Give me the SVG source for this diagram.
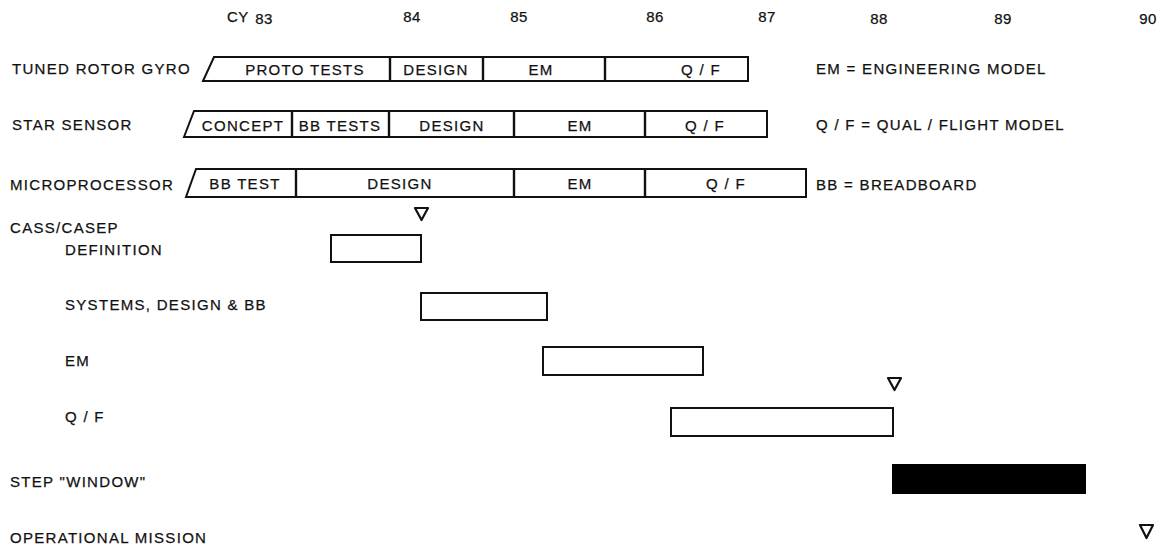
<svg xmlns="http://www.w3.org/2000/svg" width="1171" height="545" viewBox="0 0 1171 545">
<style>
text{font-family:"Liberation Sans",Arial,sans-serif;font-size:15px;fill:#111;letter-spacing:1.3px;stroke:#111;stroke-width:0.25}
.c{text-anchor:middle}
.n{letter-spacing:0.5px}
.bar{fill:#fff;stroke:#111;stroke-width:2}
.div{stroke:#111;stroke-width:2.4}
.tri{fill:none;stroke:#111;stroke-width:2.2;stroke-linejoin:round}
</style>
<rect width="1171" height="545" fill="#fff"/>
<g id="axis">
<text x="227" y="22" class="n">CY</text>
<text x="264" y="24" class="c n">83</text>
<text x="412" y="22" class="c n">84</text>
<text x="519" y="22" class="c n">85</text>
<text x="655" y="22" class="c n">86</text>
<text x="767" y="22" class="c n">87</text>
<text x="879" y="24" class="c n">88</text>
<text x="1003" y="24" class="c n">89</text>
<text x="1148" y="24" class="c n">90</text>
</g>
<g id="gyro">
<text x="12" y="74">TUNED ROTOR GYRO</text>
<path class="bar" d="M203,81 L214,57 L748,57 L748,81 Z"/>
<line class="div" x1="390" y1="57" x2="390" y2="81"/>
<line class="div" x1="483" y1="57" x2="483" y2="81"/>
<line class="div" x1="605" y1="57" x2="605" y2="81"/>
<text x="305" y="75" class="c">PROTO TESTS</text>
<text x="436" y="75" class="c">DESIGN</text>
<text x="541" y="75" class="c">EM</text>
<text x="701" y="75" class="c">Q / F</text>
</g>
<g id="star">
<text x="12" y="130">STAR SENSOR</text>
<path class="bar" d="M184,137 L194,111 L767,111 L767,137 Z"/>
<line class="div" x1="292" y1="111" x2="292" y2="137"/>
<line class="div" x1="389" y1="111" x2="389" y2="137"/>
<line class="div" x1="514" y1="111" x2="514" y2="137"/>
<line class="div" x1="645" y1="111" x2="645" y2="137"/>
<text x="243" y="131" class="c">CONCEPT</text>
<text x="340" y="131" class="c">BB TESTS</text>
<text x="452" y="131" class="c">DESIGN</text>
<text x="580" y="131" class="c">EM</text>
<text x="705" y="131" class="c">Q / F</text>
</g>
<g id="micro">
<text x="10" y="190">MICROPROCESSOR</text>
<path class="bar" d="M186,197 L196,169 L806,169 L806,197 Z"/>
<line class="div" x1="296" y1="169" x2="296" y2="197"/>
<line class="div" x1="514" y1="169" x2="514" y2="197"/>
<line class="div" x1="645" y1="169" x2="645" y2="197"/>
<text x="245" y="189" class="c">BB TEST</text>
<text x="400" y="189" class="c">DESIGN</text>
<text x="580" y="189" class="c">EM</text>
<text x="726" y="189" class="c">Q / F</text>
</g>
<g id="legend">
<text x="816" y="74">EM = ENGINEERING MODEL</text>
<text x="816" y="130">Q / F = QUAL / FLIGHT MODEL</text>
<text x="816" y="190">BB = BREADBOARD</text>
</g>
<g id="cass">
<text x="10" y="233">CASS/CASEP</text>
</g>
<g id="definition">
<text x="65" y="255">DEFINITION</text>
<rect class="bar" x="331" y="235" width="90" height="27"/>
<path class="tri" d="M415,208 L428,208 L421.5,220 Z"/>
</g>
<g id="systems">
<text x="65" y="310">SYSTEMS, DESIGN &amp; BB</text>
<rect class="bar" x="421" y="293" width="126" height="27"/>
</g>
<g id="em">
<text x="65" y="366">EM</text>
<rect class="bar" x="543" y="347" width="160" height="28"/>
</g>
<g id="qf">
<text x="65" y="422">Q / F</text>
<rect class="bar" x="671" y="408" width="222" height="28"/>
<path class="tri" d="M888,378 L901,378 L894.5,390 Z"/>
</g>
<g id="step">
<text x="10" y="487">STEP "WINDOW"</text>
<rect x="892" y="464" width="194" height="30" fill="#000"/>
</g>
<g id="mission">
<text x="10" y="543">OPERATIONAL MISSION</text>
<path class="tri" d="M1140,525 L1153,525 L1146.5,538 Z"/>
</g>
<g id="connectors"></g>
</svg>
